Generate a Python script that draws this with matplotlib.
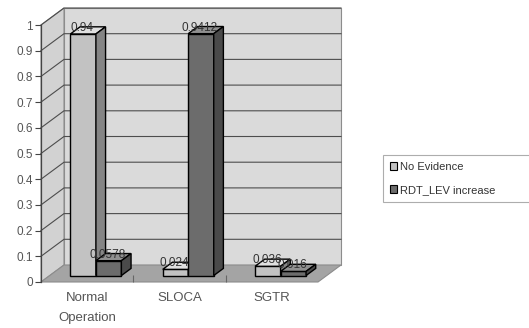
import matplotlib
matplotlib.use("Agg")
import matplotlib.pyplot as plt
from matplotlib.patches import Polygon, Patch

# Chart data
categories = ["Normal\nOperation", "SLOCA", "SGTR"]
series_names = ["No Evidence", "RDT_LEV increase"]
no_evidence = [0.94, 0.024, 0.036]
rdt_lev = [0.0578, 0.9412, 0.016]
labels_no_evidence = ["0.94", "0.024", "0.036"]
labels_rdt_lev = ["0.0578", "0.9412", "0.016"]
yticks = [0, 0.1, 0.2, 0.3, 0.4, 0.5, 0.6, 0.7, 0.8, 0.9, 1]

plt.rcParams["font.family"] = ["Liberation Sans", "DejaVu Sans"]

# Colors
wall_color = "#dadada"
side_wall_color = "#d2d2d2"
floor_color = "#a4a4a4"
grid_color = "#4d4d4d"
text_grey = "#555555"
bar_faces = [("#c2c2c2", "#e0e0e0", "#858585"), ("#6c6c6c", "#909090", "#4a4a4a")]

fig = plt.figure(figsize=(5.29, 3.28), dpi=100)
# axes = front plane of the 3D box
ax = fig.add_axes([41 / 529, 46 / 328, 277 / 529, 257 / 328])
ax.set_xlim(0, len(categories))
ax.set_ylim(0, 1)
ax.patch.set_visible(False)

# depth offset (category units / value units for the full depth)
DX = 23 / 277 * len(categories)
DY = 17 / 257


def proj(x, y, d):
    return (x + d * DX, y + d * DY)


def face(pts, fc, ec, lw=0.8, z=1):
    poly = Polygon([proj(*p) for p in pts], closed=True, facecolor=fc, edgecolor=ec,
                   linewidth=lw, clip_on=False, zorder=z)
    ax.add_patch(poly)


n = len(categories)
# walls and floor
face([(0, 0, 1), (n, 0, 1), (n, 1, 1), (0, 1, 1)], wall_color, "#8c8c8c", z=0.5)
face([(0, 0, 0), (0, 0, 1), (0, 1, 1), (0, 1, 0)], side_wall_color, "#8c8c8c", z=0.5)
face([(0, 0, 0), (n, 0, 0), (n, 0, 1), (0, 0, 1)], floor_color, "#8c8c8c", z=0.6)

# gridlines on back wall and side wall
for t in yticks[1:]:
    xs, ys = zip(proj(0, t, 0), proj(0, t, 1), proj(n, t, 1))
    ax.plot(xs, ys, color=grid_color, lw=0.8, clip_on=False, zorder=0.7)

# 3D bars
w = 0.276
d0, d1 = 0.38, 0.80
for i in range(n):
    c = i + 0.5
    for j, (vals, labs) in enumerate([(no_evidence, labels_no_evidence), (rdt_lev, labels_rdt_lev)]):
        v = vals[i]
        x0 = c - w + j * w
        x1 = x0 + w
        front, top, side = bar_faces[j]
        z = 2 + i + 0.1 * j
        face([(x0, 0, d0), (x1, 0, d0), (x1, v, d0), (x0, v, d0)], front, "black", 1.0, z)
        face([(x0, v, d0), (x1, v, d0), (x1, v, d1), (x0, v, d1)], top, "black", 1.0, z)
        face([(x1, 0, d0), (x1, 0, d1), (x1, v, d1), (x1, v, d0)], side, "black", 1.0, z)
        lx, ly = proj((x0 + x1) / 2, v, d0)
        ax.annotate(labs[i], (lx, ly), xytext=(-1, 6), textcoords="offset pixels",
                    ha="center", va="center", fontsize=8.5, color="#333333",
                    annotation_clip=False, zorder=10)

# front axis
for s in ["right", "top", "bottom"]:
    ax.spines[s].set_visible(False)
ax.spines["left"].set_color("#444444")
ax.spines["left"].set_linewidth(0.9)
ax.set_yticks(yticks)
ax.set_yticklabels([f"{t:g}" for t in yticks])
ax.tick_params(axis="y", direction="out", length=4, width=0.8, colors="#444444",
               labelcolor=text_grey, labelsize=8.5, pad=2)
ax.set_xticks([i + 0.5 for i in range(n)])
ax.set_xticklabels(categories, linespacing=1.9)
ax.tick_params(axis="x", length=0, labelcolor=text_grey, labelsize=9.5, pad=7)
ax.set_xticks([1, 2], minor=True)
ax.tick_params(axis="x", which="minor", direction="in", length=5, width=0.8, color="#666666")

# legend (runs off the right edge, as in the original)
handles = [Patch(facecolor=bar_faces[k][0], edgecolor="black", linewidth=0.8) for k in range(2)]
leg = fig.legend(handles, series_names, loc="upper left", bbox_to_anchor=(383 / 529, 173 / 328, 160 / 529, 0),
                 mode="expand", fontsize=8, frameon=True, fancybox=False, handlelength=0.7,
                 handleheight=0.7, handletextpad=0.25, labelspacing=1.2, borderpad=0.6, borderaxespad=0)
leg.get_frame().set_edgecolor("#999999")
leg.get_frame().set_linewidth(0.8)
for t in leg.get_texts():
    t.set_color("#333333")

fig.savefig("out.png", dpi=100)
